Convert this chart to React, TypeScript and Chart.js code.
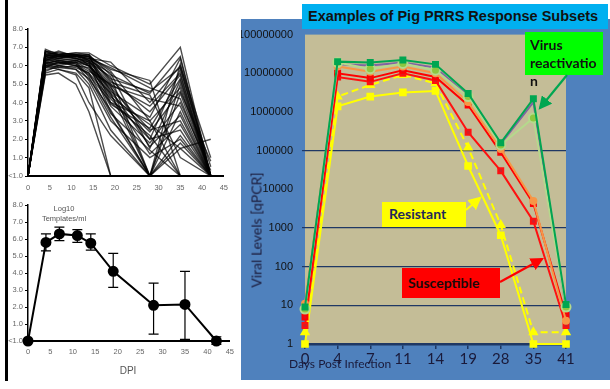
import React, { useEffect, useRef } from 'react';
import { Chart, registerables } from 'chart.js';
Chart.register(...registerables);

// ---------- Left: individual pig viremia (log10 templates/ml) ----------
const dpiSamples = [0, 4, 7, 11, 14, 19, 28, 35, 42];
const pig01 = [0, 6.9, 6.6, 6.7, 6.7, 6.0, 5.0, 7.0, 0];
const pig02 = [0, 6.5, 6.8, 6.5, 6.6, 5.5, 4.5, 6.5, 0];
const pig03 = [0, 6.2, 6.4, 6.6, 6.3, 5.0, 2.0, 5.8, 0.5];
const pig04 = [0, 6.0, 6.1, 6.2, 5.8, 4.5, 0, 5.0, 0];
const pig05 = [0, 5.8, 5.9, 6.0, 5.5, 4.0, 3.0, 0, 0];
const pig06 = [0, 6.3, 6.5, 6.4, 6.1, 3.5, 0, 4.5, 0];
const pig07 = [0, 6.7, 6.6, 6.6, 6.5, 5.8, 5.2, 0, 0];
const pig08 = [0, 5.5, 5.6, 5.0, 3.5, 0, 0, 1.5, 0];
const pig09 = [0, 6.4, 6.2, 6.3, 6.0, 4.8, 2.5, 3.0, 0];
const pig10 = [0, 6.1, 6.3, 6.1, 5.2, 3.0, 1.0, 2.0, 0];
const pig11 = [0, 6.6, 6.4, 6.5, 6.4, 6.2, 4.0, 6.0, 1.0];
const pig12 = [0, 5.9, 6.0, 5.8, 5.0, 2.5, 0, 0, 0];
const pig13 = [0, 6.8, 6.7, 6.6, 6.6, 5.2, 3.5, 5.5, 0];
const pig14 = [0, 6.2, 6.0, 5.9, 5.6, 4.2, 2.0, 2.5, 0];
const pig15 = [0, 6.5, 6.6, 6.4, 6.2, 4.9, 4.2, 3.8, 0];
const pig16 = [0, 6.0, 5.8, 5.5, 4.0, 2.2, 0, 1.8, 0];
const pig17 = [0, 6.6, 6.5, 6.6, 6.3, 5.6, 1.5, 5.2, 0];
const pig18 = [0, 6.3, 6.2, 6.0, 5.9, 3.8, 1.8, 4.0, 0.3];
const pig19 = [0, 6.4, 6.5, 6.6, 6.5, 4.6, 3.2, 6.4, 0];
const pig20 = [0, 5.7, 6.0, 6.2, 5.4, 3.2, 0, 0, 0];
const pig21 = [0, 6.8, 6.6, 6.5, 6.4, 5.9, 4.8, 4.2, 0];
const pig22 = [0, 6.1, 6.3, 6.2, 6.0, 4.3, 2.8, 1.5, 2.0];
const pig23 = [0, 6.5, 6.3, 6.4, 6.2, 5.4, 0, 3.5, 0];
const pig24 = [0, 6.0, 6.2, 6.1, 5.7, 5.0, 3.8, 5.6, 0];
const pig25 = [0, 6.7, 6.6, 6.7, 6.6, 4.0, 2.2, 0, 0];
const pig26 = [0, 5.6, 5.8, 5.6, 4.8, 0, 0, 0, 0];
const pig27 = [0, 6.3, 6.4, 6.3, 6.1, 4.4, 1.2, 2.8, 0];
const pig28 = [0, 6.6, 6.5, 6.5, 6.4, 5.3, 4.6, 5.9, 0];
const pig29 = [0, 6.4, 6.6, 6.5, 6.5, 5.7, 3.0, 4.8, 0];
const pig30 = [0, 6.2, 6.1, 6.3, 6.0, 4.7, 1.6, 3.3, 0];
const pig31 = [0, 6.6, 6.7, 6.6, 6.2, 3.9, 2.6, 5.3, 0];
const pig32 = [0, 6.1, 5.9, 5.8, 5.3, 3.6, 0, 2.2, 0];
const pig33 = [0, 6.5, 6.4, 6.6, 6.5, 5.1, 4.4, 1.0, 0];
const pig34 = [0, 6.3, 6.6, 6.4, 6.3, 4.5, 2.4, 4.6, 0.8];
const pig35 = [0, 6.8, 6.5, 6.6, 6.0, 4.9, 0, 6.1, 0];
const pig36 = [0, 5.9, 6.2, 6.0, 5.6, 3.4, 1.4, 0, 0];
const individualPigs = [pig01, pig02, pig03, pig04, pig05, pig06, pig07, pig08, pig09, pig10, pig11, pig12, pig13, pig14, pig15, pig16, pig17, pig18, pig19, pig20, pig21, pig22, pig23, pig24, pig25, pig26, pig27, pig28, pig29, pig30, pig31, pig32, pig33, pig34, pig35, pig36];

// mean with error range
const meanLog10 = [0, 5.8, 6.3, 6.2, 5.75, 4.1, 2.1, 2.15, 0];
const errLow = [0, 5.3, 5.9, 5.8, 5.35, 3.15, 0.4, 0.1, -0.2];
const errHigh = [0, 6.3, 6.7, 6.55, 6.3, 5.15, 3.4, 4.1, 0.25];
const leftTickLabel = (v: number) => (v === 0 ? '<1.0' : v.toFixed(1));

// ---------- Right: PRRS response subsets ----------
const dayLabels = ['0', '4', '7', '11', '14', '19', '28', '35', '41'];
const reactivationGreen = [9, 2.0e7, 1.9e7, 2.2e7, 1.7e7, 3.0e6, 1.6e5, 2.2e6, 10.5];
const reactivationLight = [8, 1.9e7, 1.3e7, 1.8e7, 1.2e7, 2.5e6, 1.4e5, 7.0e5, 9];
const purpleSeries = [9, 1.7e7, 1.6e7, 1.9e7, 1.4e7, 2.6e6, 1.5e5, 1.8e6, 8];
const orangeSeries = [11, 1.5e7, 1.1e7, 1.5e7, 1.0e7, 1.8e6, 1.1e5, 5.0e3, 4];
const susceptibleA = [5, 1.0e7, 7.5e6, 1.2e7, 8.0e6, 1.5e6, 9.0e4, 4.3e3, 5.5];
const susceptibleB = [3, 8.0e6, 6.0e6, 1.0e7, 6.5e6, 3.0e5, 3.0e4, 1.5e3, 3];
const resistantSolid = [1, 1.4e6, 2.5e6, 3.2e6, 3.5e6, 4.0e4, 650, 1, 1];
const resistantDashed = [2, 2.5e6, 5.0e6, 9.0e6, 5.5e6, 1.2e5, 1.2e3, 2, 2];
const logTicks = [1, 10, 100, 1000, 10000, 100000, 1000000, 10000000, 100000000];
const gridTicks = [10, 100, 1000, 100000];

export default function App() {
  const topRef = useRef<HTMLCanvasElement>(null);
  const botRef = useRef<HTMLCanvasElement>(null);
  const rightRef = useRef<HTMLCanvasElement>(null);

  useEffect(() => {
    const charts: Chart[] = [];
    const tickFont = { family: 'Liberation Sans', size: 7.5 };

    charts.push(new Chart(topRef.current!, {
      type: 'line',
      data: {
        datasets: individualPigs.map((vals) => ({
          data: vals.map((v, i) => ({ x: dpiSamples[i], y: v })),
          borderColor: 'rgba(0,0,0,0.7)',
          borderWidth: 1.4,
          pointRadius: 0,
          tension: 0,
        })),
      },
      options: {
        animation: false,
        responsive: false,
        maintainAspectRatio: false,
        layout: { padding: { top: 29, right: 10, left: 0, bottom: 0 } },
        plugins: { legend: { display: false }, tooltip: { enabled: false } },
        scales: {
          x: {
            type: 'linear', min: 0, max: 45,
            ticks: { stepSize: 5, font: tickFont, color: '#666', padding: 7, maxRotation: 0 },
            grid: { drawOnChartArea: false, drawTicks: false },
            border: { color: '#000', width: 2 },
            afterFit: (s: any) => { s.height = 19; },
          },
          y: {
            min: 0, max: 8,
            ticks: { stepSize: 1, font: tickFont, color: '#666', padding: 2, callback: (v: any) => leftTickLabel(Number(v)) },
            grid: { drawOnChartArea: false, tickLength: 3, color: '#000' },
            border: { color: '#000', width: 1.5 },
            afterFit: (s: any) => { s.width = 28; },
          },
        },
      } as any,
    }));

    const errorBars = {
      id: 'errorBars',
      afterDatasetsDraw(chart: any) {
        const { ctx, scales } = chart;
        ctx.save();
        ctx.strokeStyle = '#000';
        ctx.lineWidth = 1.2;
        dpiSamples.forEach((d, i) => {
          const x = scales.x.getPixelForValue(d);
          const yl = scales.y.getPixelForValue(errLow[i]);
          const yh = scales.y.getPixelForValue(errHigh[i]);
          if (Math.abs(yl - yh) < 1) return;
          ctx.beginPath();
          ctx.moveTo(x, yl); ctx.lineTo(x, yh);
          ctx.moveTo(x - 5, yl); ctx.lineTo(x + 5, yl);
          ctx.moveTo(x - 5, yh); ctx.lineTo(x + 5, yh);
          ctx.stroke();
        });
        ctx.restore();
      },
    };

    charts.push(new Chart(botRef.current!, {
      type: 'line',
      data: {
        datasets: [{
          data: meanLog10.map((v, i) => ({ x: dpiSamples[i], y: v })),
          borderColor: '#000',
          backgroundColor: '#000',
          borderWidth: 2,
          pointRadius: 4.5,
          tension: 0,
        }],
      },
      options: {
        animation: false,
        responsive: false,
        maintainAspectRatio: false,
        clip: false,
        layout: { padding: { top: 15, right: 9, left: 0, bottom: 0 } },
        plugins: { legend: { display: false }, tooltip: { enabled: false } },
        scales: {
          x: {
            type: 'linear', min: 0, max: 45,
            ticks: { stepSize: 5, font: tickFont, color: '#666', padding: 6, maxRotation: 0 },
            grid: { drawOnChartArea: false, drawTicks: false },
            border: { color: '#000', width: 2 },
            afterFit: (s: any) => { s.height = 48; },
          },
          y: {
            min: 0, max: 8,
            ticks: { stepSize: 1, font: tickFont, color: '#666', padding: 2, callback: (v: any) => leftTickLabel(Number(v)) },
            grid: { drawOnChartArea: false, tickLength: 3, color: '#000' },
            border: { color: '#000', width: 1.5 },
            afterFit: (s: any) => { s.width = 28; },
          },
        },
      } as any,
      plugins: [errorBars],
    }));

    const plotBg = {
      id: 'plotBg',
      beforeDraw(chart: any) {
        const { ctx, chartArea: a } = chart;
        ctx.save();
        ctx.fillStyle = '#C4BD97';
        ctx.fillRect(a.left, a.top, a.right - a.left, a.bottom - a.top);
        ctx.restore();
      },
    };

    const mk = (data: number[], color: string, extra: any = {}) => ({
      data,
      borderColor: color,
      backgroundColor: color,
      borderWidth: 2,
      pointStyle: 'rect',
      pointRadius: 3.5,
      tension: 0,
      ...extra,
    });

    charts.push(new Chart(rightRef.current!, {
      type: 'line',
      data: {
        labels: dayLabels,
        datasets: [
          mk(reactivationGreen, '#00A651'),
          mk(reactivationLight, '#B5D98C', { pointStyle: 'circle', pointRadius: 4.5, backgroundColor: '#8DC63F', borderColor: '#B5D98C' }),
          mk(purpleSeries, '#8064A2', { pointRadius: 0 }),
          mk(orangeSeries, '#F79646', { pointStyle: 'circle', pointRadius: 3 }),
          mk(susceptibleA, '#FF0000', { backgroundColor: '#E3101A' }),
          mk(susceptibleB, '#FF1010', { backgroundColor: '#D0202A' }),
          mk(resistantDashed, '#FFFF00', { borderDash: [7, 4], pointStyle: 'triangle', pointRadius: 4 }),
          mk(resistantSolid, '#FFFF00', { pointRadius: 4 }),
        ],
      },
      options: {
        animation: false,
        responsive: false,
        maintainAspectRatio: false,
        clip: false,
        layout: { padding: { top: 10, right: 44, left: 0, bottom: 0 } },
        plugins: { legend: { display: false }, tooltip: { enabled: false } },
        scales: {
          x: {
            type: 'category',
            offset: false,
            ticks: { font: { family: 'Lato', size: 15 }, color: '#1A1A3A', padding: 1, maxRotation: 0, autoSkip: false },
            grid: { drawOnChartArea: false, tickLength: 5, color: '#1F3864', lineWidth: 1.5 },
            border: { color: '#1F3864', width: 2.5 },
            afterFit: (s: any) => { s.height = 36; },
          },
          y: {
            type: 'logarithmic', min: 1, max: 1e8,
            afterBuildTicks: (s: any) => { s.ticks = logTicks.map((v) => ({ value: v })); },
            ticks: { font: { family: 'Liberation Sans', size: 11 }, color: '#111', padding: 9, callback: (v: any) => String(v) },
            grid: {
              tickLength: 3,
              lineWidth: 1.2,
              color: (c: any) => (c.tick && gridTicks.includes(c.tick.value) ? '#1F3864' : 'rgba(0,0,0,0)'),
            },
            border: { display: false },
            afterFit: (s: any) => { s.width = 64; },
          },
        },
      } as any,
      plugins: [plotBg],
    }));

    return () => charts.forEach((c) => c.destroy());
  }, []);

  const boxText: React.CSSProperties = { fontFamily: 'Lato', fontWeight: 700, fontSize: 14, lineHeight: '18px', position: 'absolute', boxSizing: 'border-box' };

  return (
    <div style={{ position: 'fixed', left: 0, top: 0, width: 610, height: 389, background: '#fff', overflow: 'hidden' }}>
      {/* left panel */}
      <div style={{ position: 'absolute', left: 5, top: 0, width: 2.5, height: 381, background: '#000' }} />
      <canvas ref={topRef} width={235} height={195} style={{ position: 'absolute', left: 0, top: 0, width: 235, height: 195 }} />
      <canvas ref={botRef} width={240} height={199} style={{ position: 'absolute', left: 0, top: 190, width: 240, height: 199 }} />
      <div style={{ position: 'absolute', left: 64, top: 204, transform: 'translateX(-50%)', fontFamily: 'Liberation Sans', fontSize: 7.5, color: '#555', textAlign: 'center', lineHeight: '10px', whiteSpace: 'nowrap' }}>
        Log10<br />Templates/ml
      </div>
      <div style={{ position: 'absolute', left: 128, top: 365, transform: 'translateX(-50%)', fontFamily: 'Liberation Sans', fontSize: 10, color: '#555' }}>DPI</div>

      {/* right panel */}
      <div style={{ position: 'absolute', left: 241, top: 19, width: 369, height: 361, background: '#4F81BD' }}>
        <canvas ref={rightRef} width={369} height={361} style={{ position: 'absolute', left: 0, top: 0, width: 369, height: 361 }} />
      </div>
      <div style={{ position: 'absolute', left: 302, top: 4, width: 306, height: 25, background: '#00B0F0', fontFamily: 'Liberation Sans', fontWeight: 700, fontSize: 14.5, lineHeight: '25px', color: '#111', paddingLeft: 6, boxSizing: 'border-box', whiteSpace: 'nowrap', overflow: 'hidden' }}>
        Examples of Pig PRRS Response Subsets
      </div>
      <div style={{ position: 'absolute', left: 256, top: 230, transform: 'translate(-50%,-50%) rotate(-90deg)', fontFamily: 'Lato', fontSize: 14, color: '#1A1A3A', whiteSpace: 'nowrap' }}>
        Viral Levels [qPCR]
      </div>
      <div style={{ position: 'absolute', left: 289, top: 356, fontFamily: 'Lato', fontSize: 12, color: '#1A1A3A', whiteSpace: 'nowrap' }}>
        Days Post Infection
      </div>

      {/* annotations */}
      <div style={{ ...boxText, left: 525, top: 32, width: 78, height: 43, background: '#00FF00', color: '#111', padding: '4px 0 0 5px' }}>
        Virus<br />reactivatio<br />n
      </div>
      <div style={{ ...boxText, left: 382, top: 202, width: 84, height: 25, background: '#FFFF00', color: '#1F2A5A', padding: '3px 0 0 7px' }}>
        Resistant
      </div>
      <div style={{ ...boxText, left: 402, top: 268, width: 98, height: 30, background: '#FF0000', color: '#1A0A0A', padding: '6px 0 0 6px' }}>
        Susceptible
      </div>
      <svg width={610} height={389} style={{ position: 'absolute', left: 0, top: 0, pointerEvents: 'none' }}>
        <defs>
          <marker id="hg" markerWidth="6" markerHeight="6" refX="5" refY="3" orient="auto"><path d="M0,0 L6,3 L0,6 z" fill="#00A651" /></marker>
          <marker id="hy" markerWidth="6" markerHeight="6" refX="5" refY="3" orient="auto"><path d="M0,0 L6,3 L0,6 z" fill="#FFFF00" /></marker>
          <marker id="hr" markerWidth="6" markerHeight="6" refX="5" refY="3" orient="auto"><path d="M0,0 L6,3 L0,6 z" fill="#FF0000" /></marker>
        </defs>
        <line x1={567} y1={75} x2={540} y2={108} stroke="#00A651" strokeWidth={2.2} markerEnd="url(#hg)" />
        <line x1={466} y1={210} x2={480} y2={198} stroke="#FFFF00" strokeWidth={2.2} markerEnd="url(#hy)" />
        <line x1={500} y1={282} x2={542} y2={259} stroke="#FF0000" strokeWidth={2.2} markerEnd="url(#hr)" />
      </svg>
    </div>
  );
}
